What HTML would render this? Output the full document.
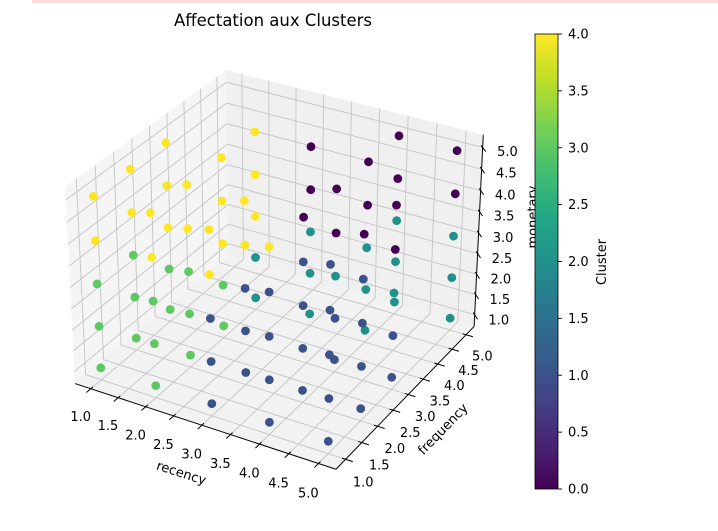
<!DOCTYPE html>
<html><head><meta charset="utf-8"><style>
html,body{margin:0;padding:0;background:#fff;}
svg{display:block;font-family:"DejaVu Sans","Liberation Sans",sans-serif;}
</style></head><body>
<svg id="chart" width="718" height="531" viewBox="0 0 718 531" xmlns="http://www.w3.org/2000/svg">
<defs>
<linearGradient id="viridis" x1="0" y1="1" x2="0" y2="0">
<stop offset="0" stop-color="#440154"/><stop offset="0.1" stop-color="#482475"/><stop offset="0.2" stop-color="#414487"/><stop offset="0.3" stop-color="#355f8d"/><stop offset="0.4" stop-color="#2a788e"/><stop offset="0.5" stop-color="#21918c"/><stop offset="0.6" stop-color="#22a884"/><stop offset="0.7" stop-color="#44bf70"/><stop offset="0.8" stop-color="#7ad151"/><stop offset="0.9" stop-color="#bddf26"/><stop offset="1" stop-color="#fde725"/>
</linearGradient>
</defs>
<rect x="32" y="0" width="686" height="3" fill="#fddcdc"/>
<text x="273" y="26" font-size="16.5" text-anchor="middle" fill="#000">Affectation aux Clusters</text>
<g id="panes"></g>
<g id="grid"></g>
<g id="axes"></g>
<g id="points"></g>
<text transform="translate(180,477) rotate(18)" font-size="13" text-anchor="middle">recency</text>
<text transform="translate(446,432) rotate(-46)" font-size="13" text-anchor="middle">frequency</text>
<text transform="translate(537,217) rotate(-90)" font-size="13" text-anchor="middle">monetary</text>
<rect x="535" y="34" width="23" height="455" fill="url(#viridis)" stroke="#000" stroke-width="0.8"/>
<g id="cbticks"></g>
<text transform="translate(606,262) rotate(-90)" font-size="13" text-anchor="middle">Cluster</text>
</svg>
<script>
const recency   = [1,1,1,1,1,1,1,1,2,2,2,2,2,2,2,2, 1,1,1,1,1,1,1,2,2,2,2,2,2,2,2,2,2,3,3,3,3,4, 2,2,3,3,3,4,4,4,4,4,4,4,5,5,5,5, 3,3,3,3,3,3,4,4,4,4,4,4,4,4,4,4,5,5,5,5,5,5,5,5,5,5,5, 3,3,4,4,4,4,4,4,4,5,5,5,5,5];
const frequency = [1,1,1,2,2,2,3,3,1,1,1,2,2,2,3,3, 1,1,2,2,3,3,3,1,1,2,2,3,3,3,4,4,4,1,1,2,2,1, 4,4,4,4,4,3,4,4,4,5,5,5,3,5,5,5, 1,1,1,2,2,2,1,1,1,1,2,2,2,2,3,3,1,1,1,1,1,2,2,2,2,3,3, 4,4,2,3,3,4,4,5,5,2,3,3,5,5];
const monetary  = [1,2,3,1,2,3,1,2,1,2,3,1,2,3,1,2, 4,5,4,5,3,4,5,4,5,4,5,3,4,5,3,4,5,4,5,4,5,5, 1,2,1,2,3,3,1,2,3,1,2,3,3,1,2,3, 1,2,3,1,2,3,1,2,3,4,1,2,3,4,1,2,1,2,3,4,5,1,2,3,4,1,2, 4,5,5,4,5,4,5,4,5,5,4,5,4,5];
const cluster   = [3,3,3,3,3,3,3,3,3,3,3,3,3,3,3,3, 4,4,4,4,4,4,4,4,4,4,4,4,4,4,4,4,4,4,4,4,4,4, 2,2,2,2,2,2,2,2,2,2,2,2,2,2,2,2, 1,1,1,1,1,1,1,1,1,1,1,1,1,1,1,1,1,1,1,1,1,1,1,1,1,1,1, 0,0,0,0,0,0,0,0,0,0,0,0,0,0];
const axisTicks = [1.0,1.5,2.0,2.5,3.0,3.5,4.0,4.5,5.0];
const tickLabels = ["1.0","1.5","2.0","2.5","3.0","3.5","4.0","4.5","5.0"];
const cbTicks = [0,0.5,1,1.5,2,2.5,3,3.5,4];
const cbLabels = ["0.0","0.5","1.0","1.5","2.0","2.5","3.0","3.5","4.0"];
const clusterColors = ["#440154","#3b528b","#21918c","#5ec962","#fde725"];

const NS="http://www.w3.org/2000/svg";
const LIM=[0.8,5.2], PAD=(LIM[1]-LIM[0])/48, LO=LIM[0]-PAD, HI=LIM[1]+PAD;
const nb=Math.sqrt(16+16+9), fac=1.8294640721620434*25/24/nb;
const B=[4*fac,4*fac,3*fac], R=[B[0]/2,B[1]/2,B[2]/2];
const el=30*Math.PI/180, az=-60*Math.PI/180;
const ps=[Math.cos(el)*Math.cos(az),Math.cos(el)*Math.sin(az),Math.sin(el)];
const eye=[R[0]+10*ps[0],R[1]+10*ps[1],R[2]+10*ps[2]];
const w=ps; let u=[-w[1],w[0],0]; const un=Math.hypot(u[0],u[1]); u=[u[0]/un,u[1]/un,0];
const v=[w[1]*u[2]-w[2]*u[1], w[2]*u[0]-w[0]*u[2], w[0]*u[1]-w[1]*u[0]];
const K=2410, CX=278.4, CY=259.6;
function proj(x,y,z){
  const p=[(x-LIM[0])/4.4*B[0]-eye[0],(y-LIM[0])/4.4*B[1]-eye[1],(z-LIM[0])/4.4*B[2]-eye[2]];
  const xv=u[0]*p[0]+u[1]*p[1]+u[2]*p[2], yv=v[0]*p[0]+v[1]*p[1]+v[2]*p[2], zv=w[0]*p[0]+w[1]*p[1]+w[2]*p[2];
  return [CX+K*xv/(-zv), CY-K*yv/(-zv), zv];
}
function mk(tag,attrs,parent){const e=document.createElementNS(NS,tag);for(const k in attrs)e.setAttribute(k,attrs[k]);document.getElementById(parent).appendChild(e);return e;}
function poly(pts){return pts.map(p=>{const q=proj(p[0],p[1],p[2]);return q[0].toFixed(1)+","+q[1].toFixed(1);}).join(" ");}
function line(a,b,stroke,sw,parent){const p=proj(a[0],a[1],a[2]),q=proj(b[0],b[1],b[2]);return mk("line",{x1:p[0],y1:p[1],x2:q[0],y2:q[1],stroke:stroke,"stroke-width":sw},parent);}

let e;
e=mk("polygon",{points:poly([[LO,LO,LO],[LO,HI,LO],[LO,HI,HI],[LO,LO,HI]]),fill:"#f5f5f5"},"panes");


e=mk("polygon",{points:poly([[LO,HI,LO],[HI,HI,LO],[HI,HI,HI],[LO,HI,HI]]),fill:"#f0f0f0"},"panes");


e=mk("polygon",{points:poly([[LO,LO,LO],[HI,LO,LO],[HI,HI,LO],[LO,HI,LO]]),fill:"#f2f2f2"},"panes");



const GC="#c4c4c4", GW=0.9;
axisTicks.forEach(t=>{
  e=line([t,LO,LO],[t,HI,LO],GC,GW,"grid");
  
  
  e=line([LO,t,LO],[HI,t,LO],GC,GW,"grid");
  
  
  e=line([t,HI,LO],[t,HI,HI],GC,GW,"grid");
  
  
  e=line([LO,HI,t],[HI,HI,t],GC,GW,"grid");
  
  
  e=line([LO,t,LO],[LO,t,HI],GC,GW,"grid");
  
  
  e=line([LO,LO,t],[LO,HI,t],GC,GW,"grid");
  
  
});

e=line([LO,LO,LO],[HI,LO,LO],"#000",1,"axes");


e=line([HI,LO,LO],[HI,HI,LO],"#000",1,"axes");


e=line([HI,HI,LO],[HI,HI,HI],"#000",1,"axes");



function label(x,y,txt,name){
  const t=mk("text",{x:x,y:y+4.6,"font-size":13,"text-anchor":"middle",fill:"#000"},"axes");
  t.textContent=txt;
  
  
}
axisTicks.forEach((t,i)=>{
  e=line([t,LO+0.06,LO],[t,LO-0.12,LO],"#000",1,"axes");
  
  
  let p=proj(t,LO-0.3,LO-0.45); label(p[0],p[1],tickLabels[i],'x-tick-label');
  e=line([HI-0.06,t,LO],[HI+0.12,t,LO],"#000",1,"axes");
  
  
  p=proj(HI+0.3,t,LO-0.4); label(p[0],p[1],tickLabels[i],'y-tick-label');
  e=line([HI-0.05,HI+0.05,t],[HI+0.1,HI-0.1,t],"#000",1,"axes");
  
  
  p=proj(HI+0.42,HI-0.32,t); label(p[0]+9,p[1]-11,tickLabels[i],'z-tick-label');
});

const order=recency.map((r,i)=>{const p=proj(r,frequency[i],monetary[i]);return {i:i,x:p[0],y:p[1],d:p[2]};}).sort((a,b)=>a.d-b.d);
order.forEach(o=>{
  const c=mk("circle",{cx:o.x.toFixed(1),cy:o.y.toFixed(1),r:4.4,fill:clusterColors[cluster[o.i]]},"points");
  
  
});

const cbTop=34, cbBot=489;
cbTicks.forEach((t,i)=>{
  const y=cbBot-(t-cbTicks[0])/(cbTicks[cbTicks.length-1]-cbTicks[0])*(cbBot-cbTop);
  const l=mk("line",{x1:558,y1:y,x2:562,y2:y,stroke:"#000","stroke-width":0.9},"cbticks");
  
  
  const tx=mk("text",{x:568,y:y+4.6,"font-size":13,fill:"#000"},"cbticks");
  tx.textContent=cbLabels[i];
  
  
});
</script>
</body></html>
